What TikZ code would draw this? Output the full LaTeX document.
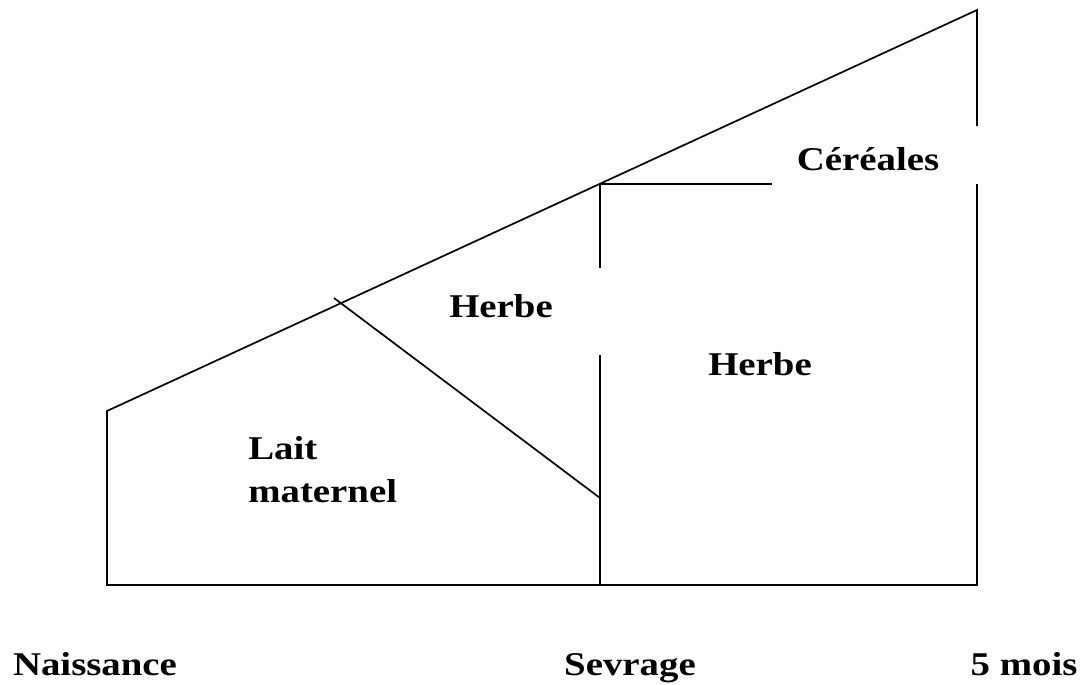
\documentclass[tikz,border=0pt]{standalone}
\usepackage{fontspec}
\setmainfont{Liberation Serif}
\newfontfamily\labelfont{Liberation Serif}[FakeStretch=1.17]
\usetikzlibrary{positioning}

\begin{document}
\begin{tikzpicture}[x=0.025cm,y=-0.025cm,every node/.style={font=\labelfont\bfseries\fontsize{23.6}{30.6}\selectfont,inner sep=0pt},edge/.style={draw=black,line width=1.2pt},label/.style={anchor=base}]
\useasboundingbox[fill=white] (0,0) rectangle (1082,684);
% outline of the feeding diagram
\coordinate (BL) at (107,585); \coordinate (TL) at (107,411); \coordinate (TR) at (977,10); \coordinate (BR) at (977,585);
\coordinate (RgapTop) at (977,126); \coordinate (RgapBot) at (977,184);
\coordinate (S) at (600,183.8); \coordinate (Sbot) at (600,585); \coordinate (Sa) at (600,268); \coordinate (Sb) at (600,355);
\coordinate (Sd) at (600,498); \coordinate (Dtop) at (334,298); \coordinate (Cend) at (772,183.8);
\draw[edge] (RgapTop)--(TR)--(TL)--(BL)--(BR)--(RgapBot);
\draw[edge] (S)--(Sa); \draw[edge] (Sb)--(Sbot);
\draw[edge] (S)--(Cend);
\draw[edge] (Dtop)--(Sd);
% labels
\node[label] (cereales) at (868,170) {Céréales};
\node[label] (herbeA) at (501,317) {Herbe};
\node[label] (herbeB) at (760,375) {Herbe};
\node[anchor=south west,align=left] (lait) at (248,503) {Lait\\maternel};
\node[label] (naissance) at (95,675) {Naissance};
\node[label] (sevrage) at (630,675) {Sevrage};
\node[label] (mois) at (1024,675) {5 mois};
\end{tikzpicture}
\end{document}
